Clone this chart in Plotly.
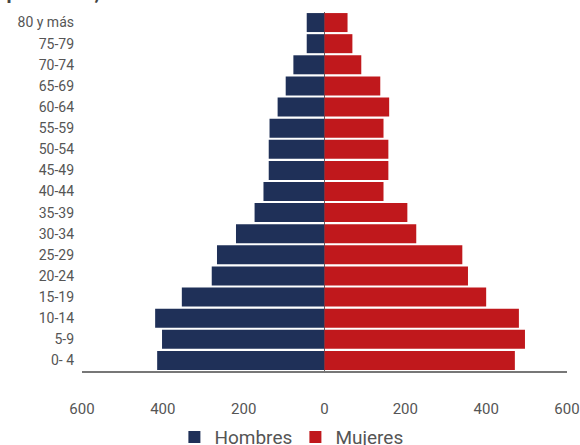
import plotly.graph_objects as go

ages = ['0- 4', '5-9', '10-14', '15-19', '20-24', '25-29', '30-34', '35-39', '40-44',
        '45-49', '50-54', '55-59', '60-64', '65-69', '70-74', '75-79', '80 y más']
hombres = [414, 402, 419, 353, 279, 266, 219, 173, 151, 138, 138, 136, 116, 96, 77, 44, 44]
mujeres = [471, 496, 481, 400, 355, 341, 227, 205, 146, 158, 158, 146, 160, 138, 91, 69, 57]
tick_vals = [-600, -400, -200, 0, 200, 400, 600]
tick_text = ['600', '400', '200', '0', '200', '400', '600']
title_text = 'Pirámide de población, 2020'

fig = go.Figure()
fig.add_trace(go.Bar(y=ages, x=[-v for v in hombres], orientation='h', name='Hombres',
                     marker=dict(color='#1F3058', line=dict(width=0)),
                     customdata=hombres, hovertemplate='%{y}: %{customdata}<extra>Hombres</extra>'))
fig.add_trace(go.Bar(y=ages, x=mujeres, orientation='h', name='Mujeres',
                     marker=dict(color='#C0181C', line=dict(width=0)),
                     hovertemplate='%{y}: %{x}<extra>Mujeres</extra>'))

fig.update_layout(
    width=580, height=445,
    barmode='relative', bargap=0.1,
    margin=dict(l=82, r=13, t=12, b=74, autoexpand=False),
    paper_bgcolor='white', plot_bgcolor='white',
    font=dict(family='Roboto, Arial, sans-serif', color='#555555'),
    showlegend=True,
    legend=dict(orientation='h', x=0.44, xanchor='center', y=-0.184, yanchor='middle',
                font=dict(size=19, color='#555555'), traceorder='normal',
                itemwidth=30, tracegroupgap=0, entrywidth=76),
    annotations=[dict(text='<b>' + title_text + '</b>', xref='paper', yref='paper',
                      x=(152 - 82) / 485, xanchor='right', y=1 + 6 / 359, yanchor='bottom',
                      showarrow=False, font=dict(size=20, color='#444444'))],
)
fig.update_xaxes(range=[-600, 600], tickvals=tick_vals, ticktext=tick_text,
                 showgrid=False, zeroline=True, zerolinecolor='#666666', zerolinewidth=1,
                 showline=True, linecolor='#777777', linewidth=1.5, automargin=False,
                 ticks='', ticklabelstandoff=23, tickfont=dict(size=15, color='#555555'),
                 fixedrange=True)
fig.update_yaxes(showgrid=False, showline=False, ticks='', ticklabelstandoff=7,
                 automargin=False,
                 tickfont=dict(size=14, color='#555555'), range=[-0.5, 16.5],
                 fixedrange=True)

fig.write_html('out.html', config={'displayModeBar': False},
               post_script="document.body.style.margin='0';document.body.style.overflow='hidden';")
